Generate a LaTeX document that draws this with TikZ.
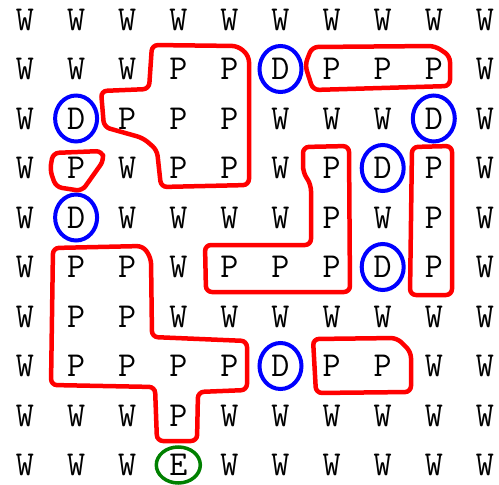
\documentclass[tikz,border=0pt]{standalone}
\usepackage{fontspec}
\usepackage{tikz}
\usetikzlibrary{calc}

\begin{document}
\begin{tikzpicture}[
    x=1pt, y=-1pt,
    cell/.style={font=\ttfamily\fontsize{35}{35}\selectfont, inner sep=0pt,
        text height=21.4pt, text depth=0pt, anchor=center},
    psel/.style={draw=red, line width=4.5pt, rounded corners=6pt},
    dsel/.style={draw=blue, line width=4pt},
    esel/.style={draw=green!50!black, line width=3.5pt}
]
\useasboundingbox (0,0) rectangle (499,485);
% letter grid
\foreach \line [count=\r from 0] in {
    {W,W,W,W,W,W,W,W,W,W},
    {W,W,W,P,P,D,P,P,P,W},
    {W,D,P,P,P,W,W,W,D,W},
    {W,P,W,P,P,W,P,D,P,W},
    {W,D,W,W,W,W,P,W,P,W},
    {W,P,P,W,P,P,P,D,P,W},
    {W,P,P,W,W,W,W,W,W,W},
    {W,P,P,P,P,D,P,P,W,W},
    {W,W,W,P,W,W,W,W,W,W},
    {W,W,W,E,W,W,W,W,W,W}}
  \foreach \ch [count=\c from 0] in \line
    \node[cell] (g\r\c) at ({25+51.1*\c},{19.5+49.5*\r}) {\ch};

% D markers
\foreach \n in {g15,g21,g28,g37,g41,g57,g75}
  \draw[dsel] (\n) ellipse [x radius=21, y radius=23];
% exit
\draw[esel] (g93) ellipse [x radius=22, y radius=18];

% P regions
\draw[psel] (152,45) -- (238,46) -- (249,56) -- (249,185) -- (161,187) -- (157,150)
    -- (143,138) -- (104,127) -- (101,91) -- (149,89) -- cycle;
\draw[psel] (312,47) -- (435,46) -- (450,56) -- (450,86) -- (313,90) -- (305,65) -- cycle;
\draw[psel] (303,147) -- (349,146) -- (350,292) -- (206,292) -- (205,245)
    -- (311,245) -- (311,185) -- (303,172) -- cycle;
\draw[psel] (412,147) -- (452,146) -- (452,295) -- (410,295) -- cycle;
\draw[psel] (53,153) -- (102,151) -- (104,160) -- (82,191) -- (56,187) -- (50,170) -- cycle;
\draw[psel] (53,248) -- (143,246) -- (151,258) -- (152,337) -- (247,341) -- (247,390)
    -- (198,392) -- (197,441) -- (157,441) -- (155,387) -- (51,385) -- cycle;
\draw[psel] (313,339) -- (397,338) -- (411,352) -- (411,392) -- (316,393) -- cycle;
\end{tikzpicture}
\end{document}
